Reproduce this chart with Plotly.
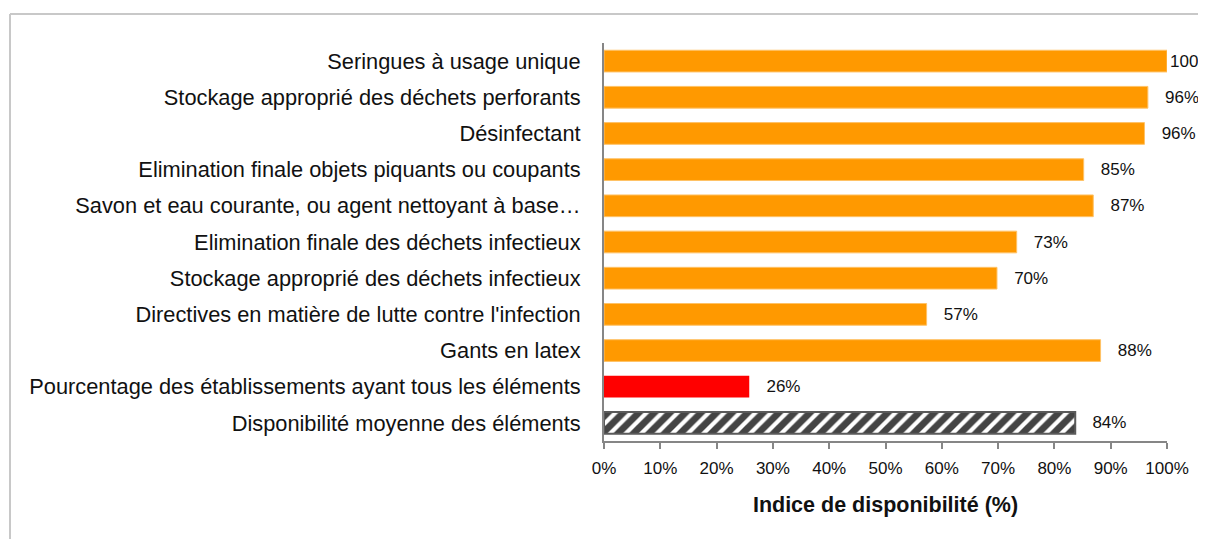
import plotly.graph_objects as go

categories = [
    "Seringues à usage unique",
    "Stockage approprié des déchets perforants",
    "Désinfectant",
    "Elimination finale objets piquants ou coupants",
    "Savon et eau courante, ou agent nettoyant à base…",
    "Elimination finale des déchets infectieux",
    "Stockage approprié des déchets infectieux",
    "Directives en matière de lutte contre l'infection",
    "Gants en latex",
    "Pourcentage des établissements ayant tous les éléments",
    "Disponibilité moyenne des éléments",
]
values = [100, 96.6, 96.0, 85.2, 86.9, 73.3, 69.8, 57.3, 88.2, 25.8, 83.7]
labels = ["100%", "96%", "96%", "85%", "87%", "73%", "70%", "57%", "88%", "26%", "84%"]
tick_vals = [0, 10, 20, 30, 40, 50, 60, 70, 80, 90, 100]
tick_text = ["0%", "10%", "20%", "30%", "40%", "50%", "60%", "70%", "80%", "90%", "100%"]

ORANGE = "#FF9900"
RED = "#FF0000"
GRAY = "#4D4D4D"

colors = [ORANGE] * 9 + [RED, "white"]
shapes_pat = [""] * 10 + ["/"]
line_colors = ["#FFC266"] * 9 + [RED, "#5A5A5A"]
line_widths = [1] * 9 + [0, 2]
pad = "\u00a0\u00a0\u00a0"
texts = [l if v >= 99.5 else pad + l for v, l in zip(values, labels)]

fig = go.Figure()
fig.add_trace(go.Bar(
    y=categories,
    x=values,
    orientation="h",
    marker=dict(
        color=colors,
        line=dict(color=line_colors, width=line_widths),
        pattern=dict(shape=shapes_pat, fgcolor=GRAY, bgcolor="white", size=11, solidity=0.62, fgopacity=1),
    ),
    text=texts,
    textposition="outside",
    textfont=dict(family="Liberation Sans, Arial, sans-serif", size=17, color="#111111"),
    constraintext="none",
    cliponaxis=False,
    width=0.6,
    hoverinfo="skip",
))

PW = 563.0
PH = 398.0

fig.update_layout(
    width=1198,
    height=531,
    margin=dict(l=596, r=39, t=35, b=98),
    paper_bgcolor="white",
    plot_bgcolor="white",
    showlegend=False,
    font=dict(family="Liberation Sans, Arial, sans-serif", color="#111111"),
    xaxis=dict(
        range=[0, 100],
        tickvals=tick_vals,
        ticktext=tick_text,
        tickfont=dict(size=17, color="#111111"),
        ticks="outside",
        ticklen=6,
        tickcolor="#868686",
        tickwidth=1.5,
        ticklabelstandoff=5,
        showline=True,
        linecolor="#868686",
        linewidth=2,
        showgrid=False,
        zeroline=False,
        fixedrange=True,
        title=dict(
            text="<b>Indice de disponibilité (%)</b>",
            font=dict(size=21.5, color="#111111"),
            standoff=20,
        ),
    ),
    yaxis=dict(
        categoryorder="array",
        categoryarray=categories[::-1],
        autorange=False,
        range=[-0.5, len(categories) - 0.5],
        tickfont=dict(size=21.8, color="#111111"),
        ticks="",
        ticklabelstandoff=17,
        showline=True,
        linecolor="#868686",
        linewidth=2,
        showgrid=False,
        zeroline=False,
        fixedrange=True,
    ),
    shapes=[
        dict(type="line", xref="paper", yref="paper",
             x0=(2 - 596) / PW, x1=(1210 - 596) / PW,
             y0=1 + (35 - 6) / PH, y1=1 + (35 - 6) / PH,
             line=dict(color="#C8C8C8", width=2)),
        dict(type="line", xref="paper", yref="paper",
             x0=(2 - 596) / PW, x1=(2 - 596) / PW,
             y0=1 + (35 - 6) / PH, y1=-(545 - 433) / PH,
             line=dict(color="#C8C8C8", width=2)),
    ],
)

fig.write_html("out.html")
